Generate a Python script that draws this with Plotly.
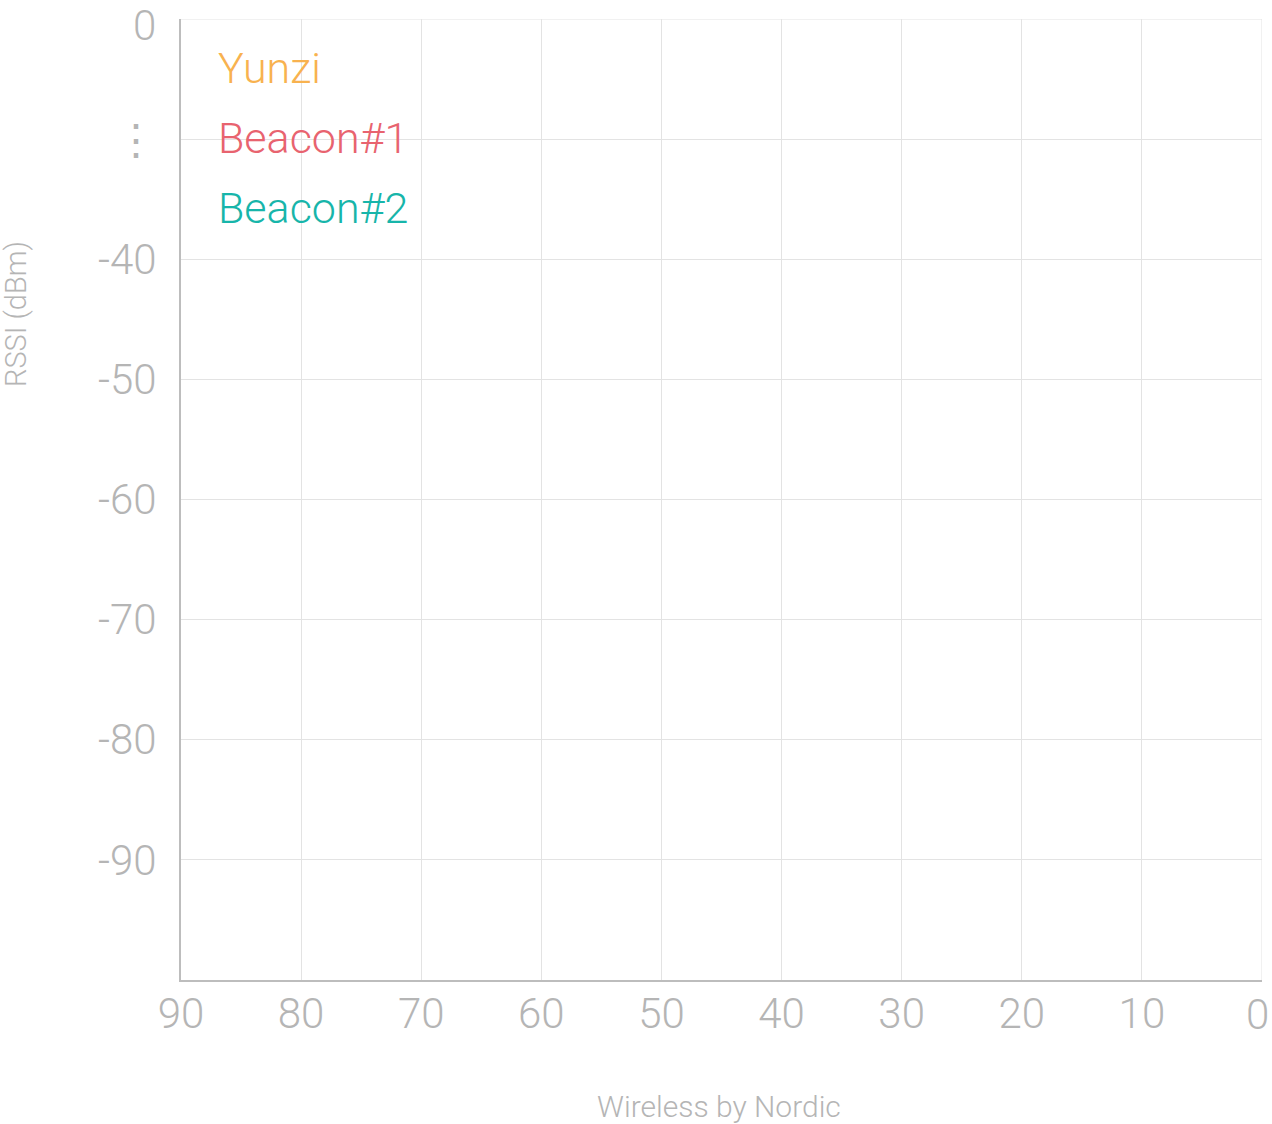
import plotly.graph_objects as go

# Data (no measurement points are drawn in the reference)
series_names = ["Yunzi", "Beacon#1", "Beacon#2"]
series_colors = ["#F8B24F", "#E8636F", "#17B5AA"]
series_x = [[], [], []]
series_y = [[], [], []]

x_ticks = [90, 80, 70, 60, 50, 40, 30, 20, 10, 0]
x_ticktext = ["90", "80", "70", "60", "50", "40", "30", "20", "10", ""]
y_tickvals = [-20, -30, -40, -50, -60, -70, -80, -90]
y_ticktext = ["", "⋮", "-40", "-50", "-60", "-70", "-80", "-90"]
edge_label = "0"

FONT = "Roboto"
TICK = "#b5b5b5"
GRID = "#e3e3e3"
PW, PH = 1081, 961

fig = go.Figure()
for name, col, xs, ys in zip(series_names, series_colors, series_x, series_y):
    fig.add_trace(go.Scatter(x=xs, y=ys, name=name, mode="lines",
                             line=dict(color=col), showlegend=False))

for i, (name, col) in enumerate(zip(series_names, series_colors)):
    fig.add_annotation(text=name, xref="paper", yref="paper",
                       x=35 / PW, y=1 - (49 + 70 * i) / PH, xanchor="left", yanchor="middle",
                       showarrow=False,
                       font=dict(family=FONT, size=43, color=col, weight=300))

fig.add_annotation(text="RSSI (dBm)", xref="paper", yref="paper",
                   x=(16 - 181) / PW, y=1 - (314 - 19) / PH,
                   xanchor="center", yanchor="middle", textangle=-90, showarrow=False,
                   font=dict(family=FONT, size=29, color=TICK, weight=300))

fig.add_annotation(text="Wireless by Nordic", xref="paper", yref="paper",
                   x=(719 - 181) / PW, y=-(1106 - 980) / PH,
                   xanchor="center", yanchor="middle", showarrow=False,
                   font=dict(family=FONT, size=30, color=TICK, weight=300))

# edge tick labels kept inside the page
fig.add_annotation(text=edge_label, xref="paper", yref="paper",
                   x=(157 - 181) / PW, y=1 + 19 / PH, xanchor="right", yanchor="top",
                   borderpad=0, showarrow=False,
                   font=dict(family=FONT, size=42, color=TICK, weight=300))
fig.add_annotation(text=edge_label, xref="x", yref="paper",
                   x=0, xshift=9, y=-(1014 - 980) / PH, xanchor="right", yanchor="middle",
                   showarrow=False, font=dict(family=FONT, size=42, color=TICK, weight=300))

fig.update_layout(
    width=1272, height=1124,
    margin=dict(l=181, r=10, t=19, b=144),
    paper_bgcolor="white", plot_bgcolor="white",
    xaxis=dict(range=[90, 0], tickvals=x_ticks, ticktext=x_ticktext, showgrid=True,
               gridcolor=GRID, gridwidth=1, showline=True, linecolor="#bdbdbd", linewidth=2,
               zeroline=False, ticks="", ticklabelstandoff=-4, automargin=False,
               tickfont=dict(family=FONT, size=42, color=TICK, weight=300)),
    yaxis=dict(range=[-100, -20], tickvals=y_tickvals, ticktext=y_ticktext,
               showgrid=True, gridcolor=GRID, gridwidth=1,
               showline=True, linecolor="#bdbdbd", linewidth=2, zeroline=False,
               ticks="", ticklabelstandoff=14, automargin=False,
               tickfont=dict(family=FONT, size=42, color=TICK, weight=300)),
)
# edge grid lines (top at -20 and right at 0)
fig.add_shape(type="line", xref="paper", yref="y", x0=0, x1=1, y0=-20, y1=-20,
              line=dict(color=GRID, width=1), layer="below")
fig.add_shape(type="line", xref="x", yref="paper", x0=0, x1=0, y0=0, y1=1,
              line=dict(color=GRID, width=1), layer="below")

fig.write_html("out.html")
